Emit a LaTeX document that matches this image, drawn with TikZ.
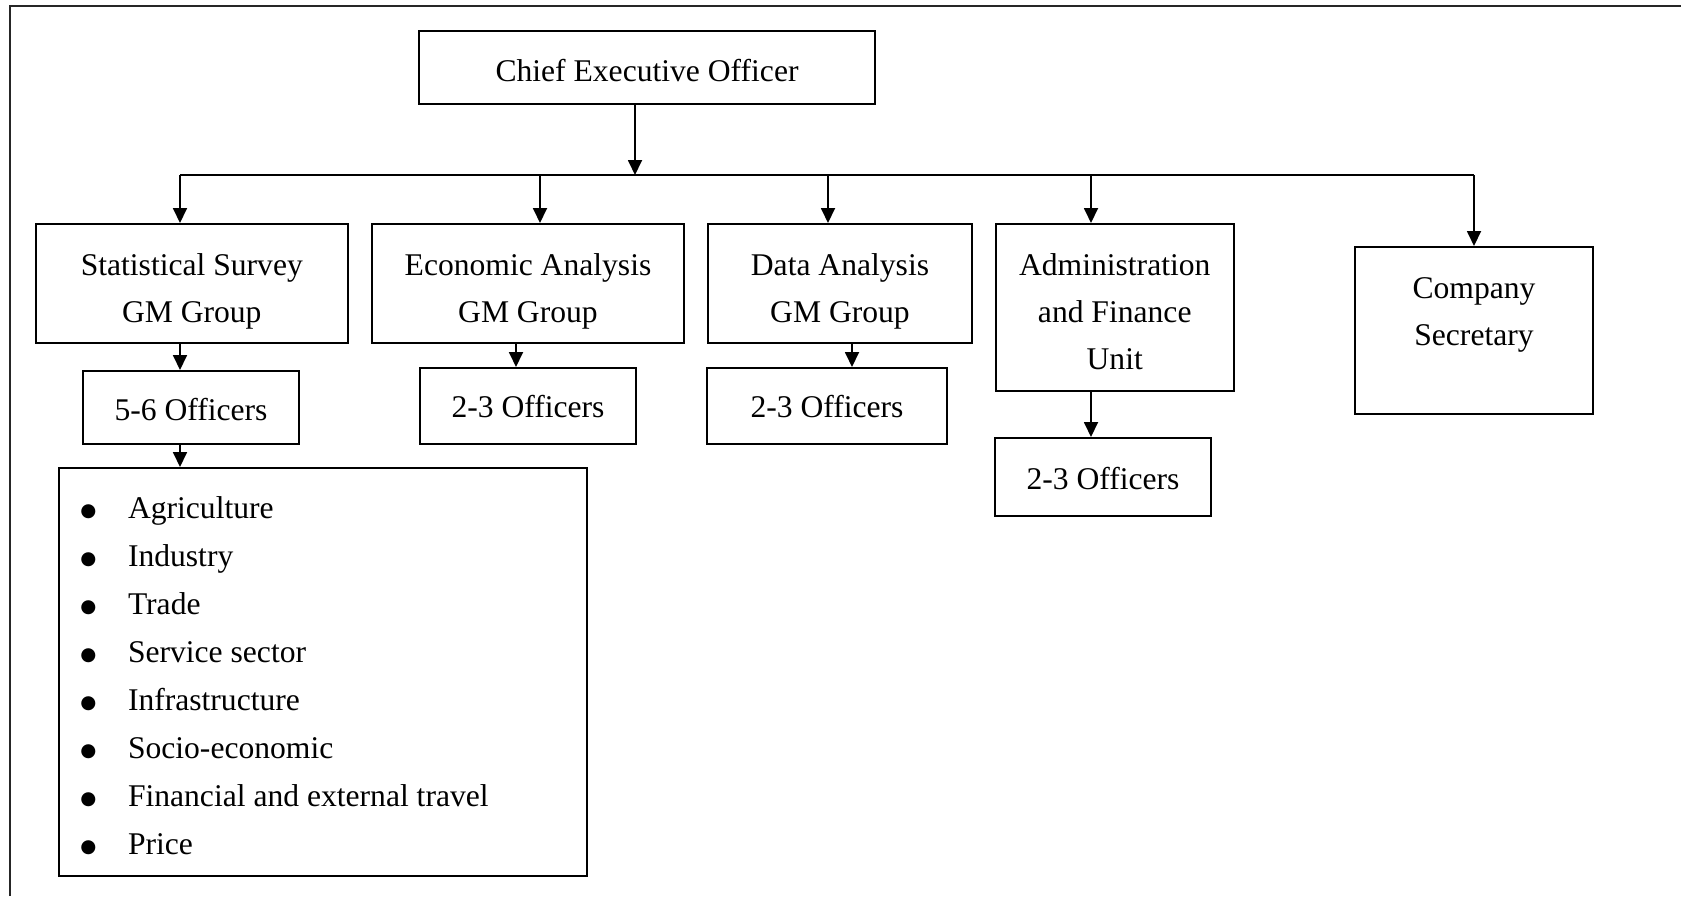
\documentclass[tikz,border=0pt]{standalone}
\usepackage{fontspec}
\setmainfont{Liberation Serif}
\newfontfamily\symfont{DejaVu Sans}
\usetikzlibrary{arrows.meta}
\newcommand{\blt}{\makebox[23.8pt][l]{\raisebox{0.95pt}{\fontsize{9.2}{9.2}\symfont ●}}}
\begin{document}
\begin{tikzpicture}[x=0.5pt,y=-0.5pt,
  box/.style={draw, line width=1pt, inner sep=0pt, align=center,
    font=\fontsize{15.8}{23.5}\selectfont},
  arr/.style={line width=0.9pt, -{Triangle[length=7.5pt,width=7pt]}},
  conn/.style={line width=0.9pt},
  frameline/.style={line width=0.6pt, black!85}]
\useasboundingbox (0,0) rectangle (1681,896);
\draw[frameline] (10,896) -- (10,6) -- (1681,6);

\node[box, minimum width=228pt, minimum height=36.5pt, text height=13.5pt, text depth=0pt] (ceo) at (647,67.5) {Chief Executive Officer};
\node[box, minimum width=156.2pt, minimum height=59.5pt, text height=38.5pt, text depth=0pt] (stat) at (191.8,283.5) {Statistical Survey\\GM Group};
\node[box, minimum width=156pt, minimum height=59.5pt, text height=38.5pt, text depth=0pt] (econ) at (528,283.5) {Economic Analysis\\GM Group};
\node[box, minimum width=132pt, minimum height=59.5pt, text height=38.5pt, text depth=0pt] (data) at (840,283.5) {Data Analysis\\GM Group};
\node[box, minimum width=119.25pt, minimum height=83.5pt, text height=61.5pt, text depth=0pt] (admin) at (1114.75,307.5) {Administration\\and Finance\\Unit};
\node[box, minimum width=119pt, minimum height=83.5pt, text height=14.5pt, text depth=0pt] (comp) at (1474,330.5) {Company\\Secretary};

\node[box, minimum width=108pt, minimum height=36.5pt, text height=13pt, text depth=0pt] (off1) at (191,407.5) {5-6 Officers};
\node[box, minimum width=108pt, minimum height=38pt, text height=11.7pt, text depth=0pt] (off2) at (528,406) {2-3 Officers};
\node[box, minimum width=120pt, minimum height=38pt, text height=11.7pt, text depth=0pt] (off3) at (827,406) {2-3 Officers};
\node[box, minimum width=108pt, minimum height=39pt, text height=12.3pt, text depth=0pt] (off4) at (1103,477) {2-3 Officers};

\node[box, minimum width=264pt, minimum height=204pt, inner xsep=10.7pt, text width=242.6pt, align=flush left,
  text height=0pt, text depth=154pt,
  font=\fontsize{15.8}{24}\selectfont] (list) at (323,672) {%
\blt Agriculture\\
\blt Industry\\
\blt Trade\\
\blt Service sector\\
\blt Infrastructure\\
\blt Socio-economic\\
\blt Financial and external travel\\
\blt Price};

% bar coordinates
\coordinate (b0) at (635,175);
\coordinate (bL) at (180,175);
\coordinate (b2) at (540,175);
\coordinate (b3) at (828,175);
\coordinate (b4) at (1091,175);
\coordinate (bR) at (1474,175);
\coordinate (x2) at (516,175);
\coordinate (x3) at (852,175);

\draw[arr] (b0 |- ceo.south) -- (b0);
\draw[conn] (bL) -- (bR);
\draw[arr] (bL) -- (bL |- stat.north);
\draw[arr] (b2) -- (b2 |- econ.north);
\draw[arr] (b3) -- (b3 |- data.north);
\draw[arr] (b4) -- (b4 |- admin.north);
\draw[arr] (bR) -- (bR |- comp.north);

\draw[arr] (bL |- stat.south) -- (bL |- off1.north);
\draw[arr] (x2 |- econ.south) -- (x2 |- off2.north);
\draw[arr] (x3 |- data.south) -- (x3 |- off3.north);
\draw[arr] (b4 |- admin.south) -- (b4 |- off4.north);
\draw[arr] (bL |- off1.south) -- (bL |- list.north);
\end{tikzpicture}
\end{document}
